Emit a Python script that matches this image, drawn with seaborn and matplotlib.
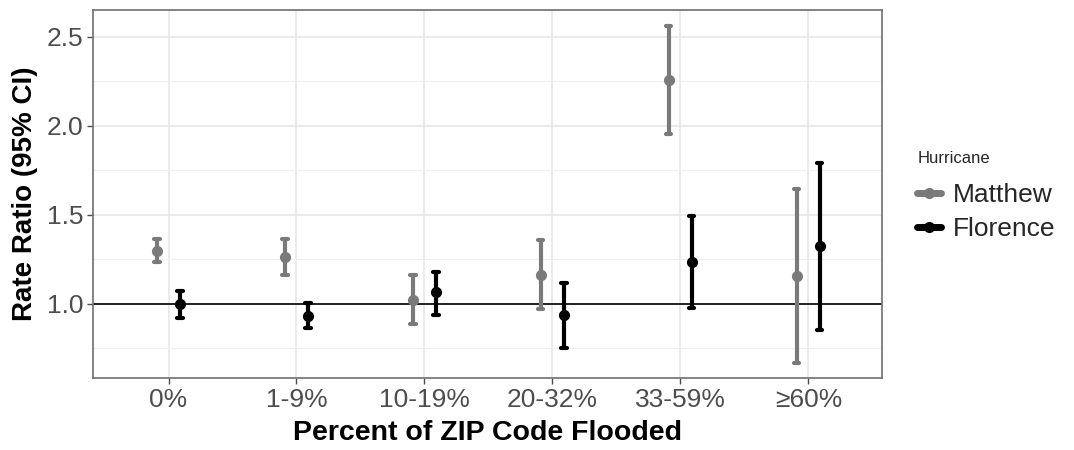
import pandas as pd
import seaborn as sns
import matplotlib.pyplot as plt
from matplotlib.lines import Line2D
from matplotlib.ticker import MultipleLocator

categorias = ["0%", "1-9%", "10-19%", "20-32%", "33-59%", "≥60%"]
furacoes = ["Matthew", "Florence"]

matthew_rr = [1.30, 1.265, 1.02, 1.165, 2.26, 1.155]
matthew_low = [1.235, 1.165, 0.885, 0.97, 1.955, 0.67]
matthew_high = [1.365, 1.365, 1.16, 1.36, 2.56, 1.645]

florence_rr = [1.00, 0.935, 1.065, 0.94, 1.235, 1.325]
florence_low = [0.92, 0.865, 0.94, 0.755, 0.975, 0.855]
florence_high = [1.075, 1.005, 1.18, 1.12, 1.495, 1.79]

cores = {"Matthew": "#7a7a7a", "Florence": "#000000"}

# monta tabela longa: mediana = estimativa, min/max = IC
linhas = []
series = {
    "Matthew": (matthew_low, matthew_rr, matthew_high),
    "Florence": (florence_low, florence_rr, florence_high),
}
for nome, (lo, rr, hi) in series.items():
    for i, cat in enumerate(categorias):
        for v in (lo[i], rr[i], hi[i]):
            linhas.append({"Categoria": cat, "Hurricane": nome, "RR": v})
df = pd.DataFrame(linhas)

sns.set_theme(style="whitegrid")
plt.rcParams["font.family"] = ["Liberation Sans", "DejaVu Sans"]

fig = plt.figure(figsize=(10.74, 4.5), dpi=100)
ax = fig.add_axes([0.0866, 0.16, 0.7346, 0.818])

sns.pointplot(data=df, x="Categoria", y="RR", hue="Hurricane", order=categorias,
              hue_order=furacoes, palette=cores, estimator="median",
              errorbar=("pi", 100), dodge=0.18, linestyle="none",
              capsize=0.04, err_kws={"linewidth": 3}, markersize=6,
              legend=False, ax=ax)

ax.axhline(1.0, color="#222222", linewidth=1.4, zorder=1)

ax.set_ylim(0.584, 2.652)
ax.set_xlim(-0.59, 5.575)
ax.yaxis.set_major_locator(MultipleLocator(0.5))
ax.yaxis.set_minor_locator(MultipleLocator(0.25))
ax.grid(which="major", color="#e6e6e6", linewidth=1.1)
ax.grid(which="minor", axis="y", color="#f0f0f0", linewidth=0.8)
ax.set_axisbelow(True)
for s in ax.spines.values():
    s.set_color("#6e6e6e")
    s.set_linewidth(1.2)

ax.tick_params(axis="both", which="major", labelsize=19, labelcolor="#4d4d4d",
               length=4, width=1, color="#4d4d4d", direction="out",
               bottom=True, left=True, pad=3)
ax.tick_params(axis="y", which="minor", length=0)

ax.set_xlabel("Percent of ZIP Code Flooded", fontsize=20.5, fontweight="bold",
              color="black", labelpad=6)
ax.set_ylabel("Rate Ratio (95% CI)", fontsize=20, fontweight="bold",
              color="black", labelpad=6)

handles = [Line2D([0], [0], color=cores[n], linewidth=5, marker="o",
                  markersize=7) for n in furacoes]
leg = fig.legend(handles, furacoes, title="Hurricane", loc="center left",
                 bbox_to_anchor=(0.832, 0.564), frameon=False, fontsize=19,
                 title_fontsize=12, handlelength=0.9, handletextpad=0.45,
                 labelspacing=0.4)
leg._legend_box.align = "left"
leg._legend_box.sep = 12

fig.savefig("out.png", dpi=100)
